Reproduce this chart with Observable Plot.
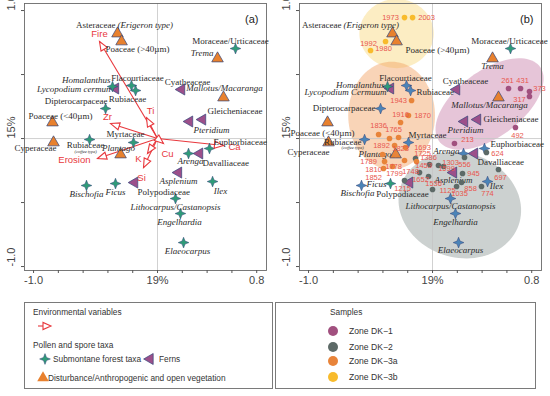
<!DOCTYPE html>
<html><head><meta charset="utf-8">
<script src="https://cdn.jsdelivr.net/npm/d3@7"></script>
<script src="https://cdn.jsdelivr.net/npm/@observablehq/plot@0.6"></script>
<style>
body{margin:0;background:#fff;}
#wrap{width:550px;height:396px;position:relative;overflow:hidden;background:#fff;}
#plots{display:flex;height:290px;}
#legend svg{display:block;}
</style></head><body><div id="wrap"><div id="plots"></div><div id="legend"></div></div>
<script>
// ---------------- data ----------------
const disturbanceTaxa = [
  {name: "Asteraceae (Erigeron type)", x: -0.323, y: 0.820},
  {name: "Poaceae (>40µm)", x: -0.290, y: 0.758},
  {name: "Trema", x: 0.484, y: 0.625},
  {name: "Mallotus/Macaranga", x: 0.532, y: 0.320},
  {name: "Poaceae (<40µm)", x: -0.847, y: 0.125},
  {name: "Cyperaceae", x: -0.839, y: -0.031},
  {name: "Plantago", x: -0.298, y: -0.125}
];
const forestTaxa = [
  {name: "Moraceae/Urticaceae", x: 0.629, y: 0.703},
  {name: "Homalanthus", x: -0.363, y: 0.406},
  {name: "Flacourtiaceae", x: -0.210, y: 0.414},
  {name: "Rubiaceae", x: -0.177, y: 0.375},
  {name: "Dipterocarpaceae", x: -0.419, y: 0.234},
  {name: "Myrtaceae", x: -0.194, y: -0.031},
  {name: "Rubiaceae (coffee type)", x: -0.548, y: -0.008},
  {name: "Euphorbiaceae", x: 0.419, y: -0.078},
  {name: "Arenga", x: 0.250, y: -0.117},
  {name: "Bischofia", x: -0.573, y: -0.367},
  {name: "Ficus", x: -0.339, y: -0.352},
  {name: "Ilex", x: 0.444, y: -0.336},
  {name: "Lithocarpus/Castanopsis", x: 0.145, y: -0.469},
  {name: "Engelhardia", x: 0.185, y: -0.586},
  {name: "Elaeocarpus", x: 0.210, y: -0.813}
];
const fernTaxa = [
  {name: "Lycopodium", x: -0.339, y: 0.391},
  {name: "Cyatheaceae", x: 0.194, y: 0.383},
  {name: "Pteridium", x: 0.258, y: 0.133},
  {name: "Gleicheniaceae", x: 0.363, y: 0.148},
  {name: "Polypodiaceae", x: -0.185, y: -0.344},
  {name: "Davalliaceae", x: 0.339, y: -0.117},
  {name: "Asplenium", x: 0.169, y: -0.266}
];
const envVars = [
  {name: "Fire", x: -0.468, y: 0.758},
  {name: "Ti", x: -0.089, y: 0.164},
  {name: "Zr", x: -0.379, y: 0.117},
  {name: "Erosion", x: -0.484, y: -0.156},
  {name: "K", x: -0.081, y: -0.117},
  {name: "Si", x: -0.113, y: -0.227},
  {name: "Cu", x: 0.048, y: -0.039},
  {name: "Ca", x: 0.532, y: -0.055}
];
const samplesDK1 = [
  {year: 213, x: 0.177, y: -0.039}, {year: 261, x: 0.613, y: 0.391},
  {year: 317, x: 0.782, y: 0.328}, {year: 373, x: 0.782, y: 0.367},
  {year: 431, x: 0.710, y: 0.391}, {year: 492, x: 0.669, y: 0.086}
];
const samplesDK2 = [
  {year: 556, x: 0.258, y: -0.148}, {year: 624, x: 0.435, y: -0.109},
  {year: 697, x: 0.532, y: -0.242}, {year: 774, x: 0.395, y: -0.375},
  {year: 858, x: 0.234, y: -0.344}, {year: 945, x: 0.242, y: -0.273},
  {year: 1035, x: 0.194, y: -0.375}, {year: 1125, x: 0.000, y: -0.398},
  {year: 1215, x: -0.226, y: -0.328}, {year: 1303, x: 0.089, y: -0.219},
  {year: 1386, x: -0.137, y: -0.156}, {year: 1453, x: -0.024, y: -0.203},
  {year: 1536, x: -0.032, y: -0.297}, {year: 1599, x: 0.048, y: -0.211},
  {year: 1652, x: -0.105, y: -0.266}
];
const samplesDK3a = [
  {year: 1693, x: -0.218, y: -0.070}, {year: 1725, x: -0.129, y: -0.180},
  {year: 1748, x: -0.226, y: -0.172}, {year: 1765, x: -0.274, y: 0.008},
  {year: 1778, x: -0.298, y: -0.125}, {year: 1789, x: -0.403, y: -0.125},
  {year: 1799, x: -0.323, y: -0.219}, {year: 1810, x: -0.387, y: -0.180},
  {year: 1823, x: -0.306, y: -0.055}, {year: 1836, x: -0.435, y: 0.031},
  {year: 1852, x: -0.395, y: -0.234}, {year: 1870, x: -0.194, y: 0.180},
  {year: 1892, x: -0.347, y: 0.000}, {year: 1916, x: -0.258, y: 0.125},
  {year: 1943, x: -0.169, y: 0.297}
];
const samplesDK3b = [
  {year: 1973, x: -0.226, y: 0.945}, {year: 1980, x: -0.379, y: 0.758},
  {year: 1992, x: -0.500, y: 0.688}, {year: 2003, x: -0.161, y: 0.945}
];
// zone ellipses: centre, semi-axes (data units), tilt (deg)
const zoneEllipses = [
  {zone: "DK-3b", cx: -0.29, cy: 0.82, rx: 0.30, ry: 0.27, angle: 0},
  {zone: "DK-3a", cx: -0.33, cy: 0.18, rx: 0.35, ry: 0.42, angle: 0},
  {zone: "DK-1", cx: 0.46, cy: 0.27, rx: 0.50, ry: 0.26, angle: 35},
  {zone: "DK-2", cx: 0.22, cy: -0.52, rx: 0.50, ry: 0.41, angle: -15}
];
const zoneNames = ["Zone DK−1", "Zone DK−2", "Zone DK−3a", "Zone DK−3b"];
const xTicks = [-1, -0.8, -0.6, -0.4, -0.2, 0, 0.2, 0.4, 0.6, 0.8];
const xTickLabels = [{v: -1, t: "-1.0"}, {v: 0, t: "19%"}, {v: 0.8, t: "0.8"}];
const yTicks = [-1, -0.5, 0, 0.5, 1];
const yTickLabels = [{v: -1, t: "-1.0"}, {v: 0, t: "15%"}, {v: 1, t: "1.0"}];

// ---------------- layout / style ----------------
const W = 275, H = 290;
const M = {left: 24, right: 9, top: 3, bottom: 20};
const xDomain = [-1.073, 0.879], yDomain = [-1.031, 1.055];
const kx = (W - M.left - M.right) / (xDomain[1] - xDomain[0]);
const ky = (H - M.top - M.bottom) / (yDomain[1] - yDomain[0]);

const RED = "#e8383d", SRED = "#e8564e";
const ORANGE = "#e8812e", FERN = "#9c4f8a", GREEN = "#2f9b78", BLUE = "#4a84b8", EDGE = "#33457a";
const zoneColor = {"DK-1": "#a1507f", "DK-2": "#5d6a67", "DK-3a": "#e8843a", "DK-3b": "#f8bb2c"};
const zoneFill = {"DK-1": "#c77fa8", "DK-2": "#8d9a96", "DK-3a": "#f2a060", "DK-3b": "#f9d77a"};
const serif = "Liberation Serif, Times New Roman, serif";
const sans = "Liberation Sans, Arial, sans-serif";
const italicTaxa = new Set(["Trema", "Mallotus/Macaranga", "Plantago", "Homalanthus", "Lycopodium",
  "Pteridium", "Arenga", "Asplenium", "Bischofia", "Ficus", "Ilex", "Lithocarpus/Castanopsis",
  "Engelhardia", "Elaeocarpus"]);
const greenInB = new Set(["Moraceae/Urticaceae", "Homalanthus", "Ficus"]);

const layoutA = {
  "Asteraceae (Erigeron type)": {dx: -1, dy: -8, split: true},
  "Poaceae (>40µm)": {dx: -16, dy: 8, anchor: "start"},
  "Trema": {dx: -4, dy: -5, anchor: "end"},
  "Mallotus/Macaranga": {dx: 1, dy: -9},
  "Poaceae (<40µm)": {dx: 8, dy: -6},
  "Cyperaceae": {dx: -18, dy: 6},
  "Plantago": {dx: -2, dy: -6},
  "Moraceae/Urticaceae": {dx: -5, dy: -7},
  "Homalanthus": {dx: -2, dy: -6, anchor: "end"},
  "Flacourtiaceae": {dx: 6, dy: -7},
  "Rubiaceae": {dx: -8, dy: 9},
  "Dipterocarpaceae": {dx: 2, dy: -7, anchor: "end"},
  "Myrtaceae": {dx: -8, dy: -8},
  "Rubiaceae (coffee type)": {dx: -4, dy: 6, coffee: true, cdx: -4, cdy: 12},
  "Euphorbiaceae": {dx: 4, dy: -6, anchor: "start"},
  "Arenga": {dx: 2, dy: 8},
  "Bischofia": {dx: 0, dy: 9},
  "Ficus": {dx: 0, dy: 9},
  "Ilex": {dx: 8, dy: 10},
  "Lithocarpus/Castanopsis": {dx: 0, dy: 9},
  "Engelhardia": {dx: -1, dy: 9},
  "Elaeocarpus": {dx: 4, dy: 9},
  "Lycopodium": {dx: -5, dy: 1, anchor: "end", text: "Lycopodium cermun"},
  "Cyatheaceae": {dx: 6, dy: -7},
  "Pteridium": {dx: 22, dy: 9},
  "Gleicheniaceae": {dx: 5, dy: -8, anchor: "start"},
  "Polypodiaceae": {dx: 3, dy: 10, anchor: "start"},
  "Davalliaceae": {dx: 3, dy: 10, anchor: "start"},
  "Asplenium": {dx: 0, dy: 9}
};
const layoutB = {
  "Asteraceae (Erigeron type)": {dx: -50, dy: -8, split: true},
  "Poaceae (>40µm)": {dx: 9, dy: 9, anchor: "start"},
  "Trema": {dx: 0, dy: 8},
  "Mallotus/Macaranga": {dx: -9, dy: 8},
  "Poaceae (<40µm)": {dx: -5, dy: 11},
  "Cyperaceae": {dx: -20, dy: 10},
  "Plantago": {dx: -4, dy: 0, anchor: "end"},
  "Moraceae/Urticaceae": {dx: -1, dy: -7},
  "Homalanthus": {dx: -3, dy: -1, anchor: "end"},
  "Flacourtiaceae": {dx: -1, dy: -7},
  "Rubiaceae": {dx: 6, dy: 2, anchor: "start"},
  "Dipterocarpaceae": {dx: -5, dy: 0, anchor: "end"},
  "Myrtaceae": {dx: 0, dy: -7, anchor: "start"},
  "Rubiaceae (coffee type)": {dx: -3, dy: 3, anchor: "end", coffee: true, cdx: -12, cdy: 8},
  "Euphorbiaceae": {dx: 6, dy: -4, anchor: "start"},
  "Arenga": {dx: -4, dy: -2, anchor: "end"},
  "Bischofia": {dx: -4, dy: 8},
  "Ficus": {dx: -4, dy: 1, anchor: "end"},
  "Ilex": {dx: 9, dy: 5},
  "Lithocarpus/Castanopsis": {dx: 0, dy: 8},
  "Engelhardia": {dx: 0, dy: 9},
  "Elaeocarpus": {dx: 2, dy: 8},
  "Lycopodium": {dx: -4, dy: 4, anchor: "end", text: "Lycopodium Cermuum"},
  "Cyatheaceae": {dx: 9, dy: -8},
  "Pteridium": {dx: 1, dy: 9},
  "Gleicheniaceae": {dx: 6, dy: 0, anchor: "start"},
  "Polypodiaceae": {dx: -7, dy: 12},
  "Davalliaceae": {dx: 3, dy: 9, anchor: "start"},
  "Asplenium": {dx: 0, dy: 8}
};
const envLabel = {
  "Fire": {dx: 0, dy: -8}, "Ti": {dx: 4, dy: -7}, "Zr": {dx: -3, dy: -7},
  "Erosion": {dx: -7, dy: 1, anchor: "end"}, "K": {dx: -9, dy: 5}, "Si": {dx: -2, dy: 10},
  "Cu": {dx: 4, dy: 10}, "Ca": {dx: 5, dy: 1, anchor: "start"}
};
const sampleLabelOffsets = {
  1973: [-14, 0], 2003: [14, 0], 1980: [-2, 7], 1992: [-2, -7],
  213: [13, -4], 261: [-1, -8], 317: [-10, 3], 373: [10, -3], 431: [2, -8], 492: [2, 8],
  556: [0, 7], 624: [11, 1], 697: [2, 8], 774: [6, 7], 858: [9, 6], 945: [11, 0], 1035: [3, 7],
  1125: [15, 1], 1215: [-2, 8], 1303: [7, -4], 1386: [13, -1], 1453: [-6, 1], 1536: [5, 7],
  1599: [8, 3], 1652: [1, 7],
  1943: [-13, 0], 1916: [0, -8], 1870: [14, 0], 1836: [0, -9], 1765: [-5, -8], 1892: [-8, 7],
  1823: [6, 3], 1693: [17, 0], 1725: [6, -8], 1789: [-14, 7], 1778: [-2, 12], 1810: [-11, 8],
  1799: [2, 7], 1852: [-10, 9], 1748: [6, 11]
};

// ---------------- symbols ----------------
const star4 = {draw(ctx, size) {
  const r = Math.sqrt(size / Math.PI) * 1.35, w = r * 0.28;
  ctx.moveTo(0, -r); ctx.lineTo(w, -w); ctx.lineTo(r, 0); ctx.lineTo(w, w);
  ctx.lineTo(0, r); ctx.lineTo(-w, w); ctx.lineTo(-r, 0); ctx.lineTo(-w, -w); ctx.closePath();
}};
const arrowHead = {draw(ctx) {
  const h = 9, w = 3.6;
  ctx.moveTo(0, 0); ctx.lineTo(w, h); ctx.lineTo(-w, h); ctx.closePath();
}};

function ellipsePoints(e) {
  const a = e.angle * Math.PI / 180, pts = [];
  for (let i = 0; i < 96; i++) {
    const t = 2 * Math.PI * i / 96, ex = e.rx * Math.cos(t), ey = e.ry * Math.sin(t);
    pts.push({zone: e.zone, x: e.cx + ex * Math.cos(a) - ey * Math.sin(a), y: e.cy + ex * Math.sin(a) + ey * Math.cos(a)});
  }
  return pts;
}

function textMark(t, x, y, o, style) {
  return Plot.text([{t, x, y}], {x: "x", y: "y", text: "t", dx: o.dx || 0, dy: o.dy || 0,
    textAnchor: o.anchor || "middle", ...style});
}

function taxaLabels(layout) {
  const marks = [];
  const all = [...disturbanceTaxa, ...forestTaxa, ...fernTaxa];
  const base = {fontFamily: serif, fontSize: 9, fill: "#2b2b2b"};
  for (const d of all) {
    const o = layout[d.name];
    if (o.split) {
      marks.push(textMark("Asteraceae", d.x, d.y, {dx: o.dx - 1, dy: o.dy, anchor: "end"}, base));
      marks.push(textMark("(Erigeron type)", d.x, d.y, {dx: o.dx + 1, dy: o.dy, anchor: "start"}, {...base, fontStyle: "italic"}));
    } else if (o.coffee) {
      marks.push(textMark("Rubiaceae", d.x, d.y, o, base));
      marks.push(textMark("(coffee type)", d.x, d.y, {dx: o.cdx, dy: o.cdy}, {...base, fontSize: 4.5, fontStyle: "italic"}));
    } else {
      marks.push(textMark(o.text || d.name, d.x, d.y, o, italicTaxa.has(d.name) ? {...base, fontStyle: "italic"} : base));
    }
  }
  return marks;
}

function panel(id) {
  const marks = [];
  if (id === "b") {
    for (const e of zoneEllipses) {
      marks.push(Plot.line(ellipsePoints(e), {x: "x", y: "y", curve: "linear-closed", fill: zoneFill[e.zone], fillOpacity: 0.45, stroke: "none"}));
    }
  }
  marks.push(Plot.ruleX([0], {stroke: "#c4c4c4", strokeWidth: 0.8}));
  marks.push(Plot.ruleY([0], {stroke: "#c4c4c4", strokeWidth: 0.8}));
  marks.push(Plot.frame({stroke: "#6a6a6a", strokeWidth: 0.9}));
  marks.push(Plot.axisX({ticks: xTicks, tickSize: 3, tickFormat: () => ""}));
  marks.push(Plot.axisY({ticks: yTicks, tickSize: 3, tickFormat: () => ""}));
  marks.push(Plot.text(xTickLabels, {x: "v", text: "t", frameAnchor: "bottom", dy: 13, fontFamily: sans, fontSize: 11, fill: "#444"}));
  marks.push(Plot.text(yTickLabels, {y: "v", text: "t", frameAnchor: "left", dx: -13, rotate: -90, fontFamily: sans, fontSize: 11, fill: "#444"}));
  marks.push(Plot.text([id === "a" ? "(a)" : "(b)"], {frameAnchor: "top-right", dx: -8, dy: 12, fontFamily: sans, fontSize: 11, fill: "#222"}));

  if (id === "a") {
    marks.push(Plot.link(envVars, {x1: () => 0, y1: () => 0, x2: "x", y2: "y", stroke: RED, strokeWidth: 1.1}));
  }
  // taxa symbols
  marks.push(Plot.dot(disturbanceTaxa, {x: "x", y: "y", symbol: "triangle", r: 4.3, fill: ORANGE, stroke: EDGE, strokeWidth: 0.7}));
  marks.push(Plot.dot(fernTaxa, {x: "x", y: "y", symbol: "triangle", rotate: -90, r: 4.1, fill: FERN, stroke: EDGE, strokeWidth: 0.7}));
  marks.push(Plot.dot(forestTaxa, {x: "x", y: "y", symbol: star4, r: 4,
    fill: d => (id === "a" || greenInB.has(d.name)) ? GREEN : BLUE, stroke: EDGE, strokeWidth: 0.5}));

  if (id === "a") {
    marks.push(Plot.dot(envVars, {x: "x", y: "y", symbol: arrowHead, r: 3,
      rotate: d => Math.atan2(d.x * kx, d.y * ky) * 180 / Math.PI, fill: "white", stroke: RED, strokeWidth: 1.1}));
    for (const d of envVars) {
      marks.push(textMark(d.name, d.x, d.y, envLabel[d.name], {fontFamily: sans, fontSize: 9.5, fill: RED}));
    }
  }
  marks.push(...taxaLabels(id === "a" ? layoutA : layoutB));

  if (id === "b") {
    const groups = [["DK-1", samplesDK1], ["DK-2", samplesDK2], ["DK-3a", samplesDK3a], ["DK-3b", samplesDK3b]];
    for (const [z, s] of groups) {
      marks.push(Plot.dot(s, {x: "x", y: "y", r: 2.8, fill: zoneColor[z], stroke: "none"}));
    }
    for (const [z, s] of groups) {
      for (const d of s) {
        const [dx, dy] = sampleLabelOffsets[d.year];
        marks.push(textMark(String(d.year), d.x, d.y, {dx, dy}, {fontFamily: sans, fontSize: 7.5, fill: SRED}));
      }
    }
  }
  return Plot.plot({
    width: W, height: H,
    marginLeft: M.left, marginRight: M.right, marginTop: M.top, marginBottom: M.bottom,
    x: {domain: xDomain}, y: {domain: yDomain},
    style: {fontFamily: sans, fontSize: "10px", color: "#555", background: "transparent", overflow: "visible"},
    marks
  });
}

const plots = document.getElementById("plots");
plots.appendChild(panel("a"));
plots.appendChild(panel("b"));

// ---------------- legend ----------------
const lg = d3.select("#legend").append("svg").attr("width", 550).attr("height", 106)
  .style("font-family", sans).style("font-size", "8.3px");
lg.append("rect").attr("x", 24.5).attr("y", 12.5).attr("width", 248).attr("height", 86)
  .attr("fill", "none").attr("stroke", "#7a7a7a");
lg.append("rect").attr("x", 275.5).attr("y", 12.5).attr("width", 260).attr("height", 86)
  .attr("fill", "none").attr("stroke", "#7a7a7a");
const T = (x, y, s, fs) => lg.append("text").attr("x", x).attr("y", y).attr("dy", "0.32em")
  .attr("fill", "#333").style("font-size", fs || null).text(s);
T(33, 22, "Environmental variables");
lg.append("line").attr("x1", 38).attr("x2", 44).attr("y1", 36).attr("y2", 36).attr("stroke", RED).attr("stroke-width", 1.1);
lg.append("path").attr("d", "M51,36L43,32.4L43,39.6Z").attr("fill", "white").attr("stroke", RED).attr("stroke-width", 1.1);
T(33, 55, "Pollen and spore taxa");
const sp = d3.path(); star4.draw(sp, 4 * 4 * Math.PI);
lg.append("path").attr("d", sp.toString()).attr("transform", "translate(45,69)").attr("fill", GREEN).attr("stroke", EDGE).attr("stroke-width", 0.5);
T(53, 69, "Submontane forest taxa");
lg.append("path").attr("d", d3.symbol(d3.symbolTriangle, 4.1 * 4.1 * Math.PI)()).attr("transform", "translate(150,69) rotate(-90)")
  .attr("fill", FERN).attr("stroke", EDGE).attr("stroke-width", 0.7);
T(159, 69, "Ferns");
lg.append("path").attr("d", d3.symbol(d3.symbolTriangle, 4.3 * 4.3 * Math.PI)()).attr("transform", "translate(43,88)")
  .attr("fill", ORANGE).attr("stroke", "none");
T(48, 88, "Disturbance/Anthropogenic and open vegetation");
T(330, 22, "Samples");
const zKeys = ["DK-1", "DK-2", "DK-3a", "DK-3b"];
zKeys.forEach((z, i) => {
  const y = [41, 57, 71, 87][i];
  lg.append("circle").attr("cx", 333).attr("cy", y).attr("r", 5).attr("fill", zoneColor[z]);
  T(349, y, zoneNames[i], "8.6px");
});
</script></body></html>
